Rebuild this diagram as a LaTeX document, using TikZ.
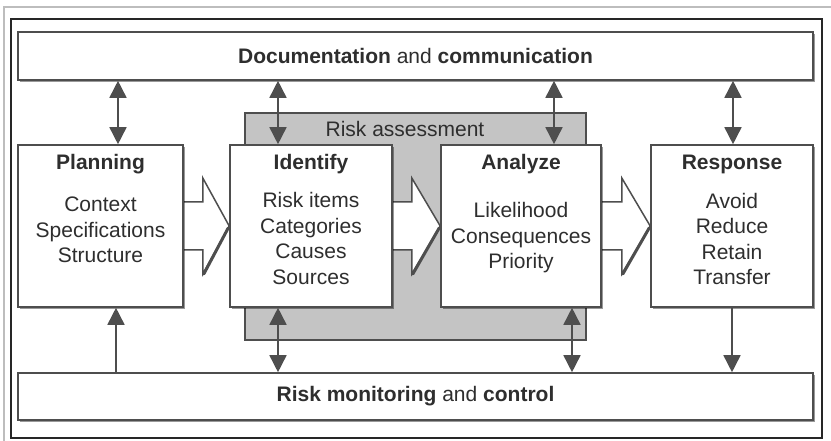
\documentclass[tikz,border=0pt]{standalone}
\usepackage{fontspec}
\setmainfont{Liberation Sans}
\usetikzlibrary{arrows.meta,shadows,calc,backgrounds}
\definecolor{ln}{HTML}{4E4E4E}
\definecolor{txt}{HTML}{2E2E2E}
\definecolor{rafill}{HTML}{C4C4C4}
\definecolor{outer}{HTML}{BDBDBD}
\begin{document}
\begin{tikzpicture}[x=1pt,y=-1pt,
  shad/.style={drop shadow={shadow xshift=2.2pt,shadow yshift=-2.2pt,fill=black,opacity=0.4}},
  box/.style={draw=ln, line width=1.6pt, fill=white, inner sep=0pt, shad},
  rabox/.style={draw=ln, line width=1.5pt, fill=rafill, inner sep=0pt},
  ttl/.style={font=\fontsize{21}{25}\selectfont\bfseries, text=txt, inner sep=0pt},
  itm/.style={font=\fontsize{21}{25.5}\selectfont, text=txt, align=center, inner sep=0pt},
  wide/.style={font=\fontsize{21}{25}\selectfont, text=txt},
  dbl/.style={draw=ln, line width=1.6pt, {Triangle[width=17pt,length=17pt]}-{Triangle[width=17pt,length=17pt]}},
  sgl/.style={draw=ln, line width=1.6pt, -{Triangle[width=17pt,length=17pt]}},
  barrow/.style={draw=ln, line width=1.5pt, fill=white, line join=miter},
  bedge/.style={draw=ln, line width=3pt, line cap=round},
]
\useasboundingbox (0,0) rectangle (831,441);
\begin{pgfonlayer}{background}
\fill[white] (0,0) rectangle (831,441);
\end{pgfonlayer}
% outer frames
\draw[outer, line width=1.2pt] (4,441) -- (4,7) -- (831,7);
\draw[black!85, line width=1.3pt] (11,19) rectangle (822,438);

% boxes
\node[box, minimum width=795pt, minimum height=48pt, wide] (doc) at (415.5,56)
  {\textbf{Documentation} and \textbf{communication}};
\node[box, minimum width=795pt, minimum height=47pt, wide] (mon) at (415.5,396.5)
  {\textbf{Risk monitoring} and \textbf{control}};

\begin{pgfonlayer}{background}
\node[rabox, minimum width=341pt, minimum height=227pt] (ra) at (415.5,226.5) {};
\end{pgfonlayer}

\node[box, minimum width=165pt, minimum height=162pt] (plan) at (100.5,226) {};
\node[box, minimum width=162pt, minimum height=162pt] (iden) at (311,226) {};
\node[box, minimum width=160pt, minimum height=162pt] (anal) at (521,226) {};
\node[box, minimum width=162pt, minimum height=162pt] (resp) at (732,226) {};

\node[wide, inner sep=0pt] (ratxt) at (405,129) {Risk assessment};

% block arrows (behind the boxes)
\begin{pgfonlayer}{background}
\draw[barrow] ($(plan.east)+(0,-24)$) -- ++(19,0) -- ++(0,-24) -- (iden.west)
  -- ($(plan.east)+(19,48)$) -- ++(0,-24) -- ($(plan.east)+(0,24)$);
\draw[bedge] ($(iden.west)+(-1,2)$) -- ($(plan.east)+(20,48)$);
\draw[barrow] ($(iden.east)+(0,-24)$) -- ++(19,0) -- ++(0,-24) -- (anal.west)
  -- ($(iden.east)+(19,48)$) -- ++(0,-24) -- ($(iden.east)+(0,24)$);
\draw[bedge] ($(anal.west)+(-1,2)$) -- ($(iden.east)+(20,48)$);
\draw[barrow] ($(anal.east)+(0,-24)$) -- ++(20,0) -- ++(0,-24) -- (resp.west)
  -- ($(anal.east)+(20,48)$) -- ++(0,-24) -- ($(anal.east)+(0,24)$);
\draw[bedge] ($(resp.west)+(-1,2)$) -- ($(anal.east)+(21,48)$);
\end{pgfonlayer}

% titles and items
\node[ttl] (planT) at (100.5,164) {Planning};
\node[itm] (planI) at (100.5,230) {Context\\Specifications\\Structure};
\node[ttl] (idenT) at (311,164) {Identify};
\node[itm] (idenI) at (311,238.5) {Risk items\\Categories\\Causes\\Sources};
\node[ttl] (analT) at (521,164) {Analyze};
\node[itm] (analI) at (521,238) {Likelihood\\Consequences\\Priority};
\node[ttl] (respT) at (732,164) {Response};
\node[itm] (respI) at (732,239) {Avoid\\Reduce\\Retain\\Transfer};

% vertical connectors
\coordinate (x1) at (118,0);
\coordinate (x2) at (278,0);
\coordinate (x3) at (554,0);
\coordinate (x4) at (733,0);
\draw[dbl] (doc.south -| x1) -- (plan.north -| x1);
\draw[dbl] (doc.south -| x2) -- (iden.north -| x2);
\draw[dbl] (doc.south -| x3) -- (anal.north -| x3);
\draw[dbl] (doc.south -| x4) -- (resp.north -| x4);

\coordinate (y1) at (116,0);
\coordinate (y2) at (278,0);
\coordinate (y3) at (572,0);
\coordinate (y4) at (732,0);
\draw[sgl] (mon.north -| y1) -- (plan.south -| y1);
\draw[dbl] (iden.south -| y2) -- (mon.north -| y2);
\draw[dbl] (anal.south -| y3) -- (mon.north -| y3);
\draw[sgl] (resp.south -| y4) -- (mon.north -| y4);
\end{tikzpicture}
\end{document}
